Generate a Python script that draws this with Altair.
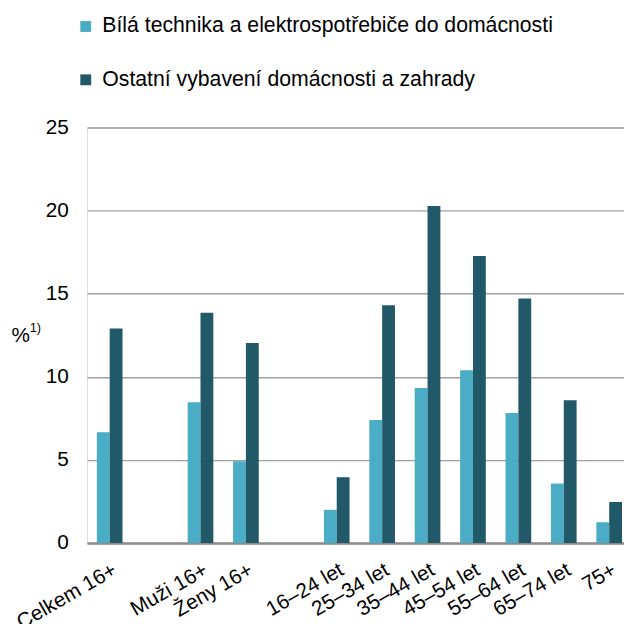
import altair as alt
import pandas as pd

categories = ["Celkem 16+", "gap1", "Muži 16+", "Ženy 16+", "gap2",
              "16–24 let", "25–34 let", "35–44 let", "45–54 let",
              "55–64 let", "65–74 let", "75+"]
data_categories = ["Celkem 16+", "Muži 16+", "Ženy 16+",
                   "16–24 let", "25–34 let", "35–44 let", "45–54 let",
                   "55–64 let", "65–74 let", "75+"]
series = ["Bílá technika a elektrospotřebiče do domácnosti",
          "Ostatní vybavení domácnosti a zahrady"]
light = [6.66, 8.47, 4.92, 2.0, 7.4, 9.32, 10.39, 7.82, 3.58, 1.25]
dark = [12.9, 13.86, 12.03, 3.96, 14.31, 20.28, 17.26, 14.71, 8.59, 2.47]
colors = ["#4BACC6", "#215968"]
y_ticks = [0, 5, 10, 15, 20, 25]

rows = []
for c, a, b in zip(data_categories, light, dark):
    rows.append({"cat": c, "series": series[0], "value": a})
    rows.append({"cat": c, "series": series[1], "value": b})
df = pd.DataFrame(rows)

FONT = "Liberation Sans"
FS = 21

bars = alt.Chart(df).mark_bar().encode(
    x=alt.X("cat:N", sort=categories,
            scale=alt.Scale(domain=categories,
                            paddingInner=0.4348, paddingOuter=0.1304,
                            align=0.8333),
            axis=alt.Axis(title=None, labelAngle=-30, labelAlign="right",
                          labelBaseline="top", labelFontSize=FS, labelFont=FONT,
                          labelColor="#000000", labelPadding=16, ticks=False,
                          domainColor="#8c8c8c", domainWidth=2.5,
                          labelOverlap=False, labelBound=False,
                          labelExpr="indexof(datum.label, 'gap') == 0 ? '' : datum.label")),
    xOffset=alt.XOffset("series:N", sort=series,
                        scale=alt.Scale(domain=series, paddingInner=0, paddingOuter=0)),
    y=alt.Y("value:Q",
            scale=alt.Scale(domain=[0, 25], nice=False),
            axis=alt.Axis(values=y_ticks, title="%", titleAngle=0,
                          titleX=-77, titleY=217, titleAlign="left",
                          titleBaseline="alphabetic", titleFontSize=FS,
                          titleFont=FONT, titleFontWeight="normal",
                          titleColor="#000000",
                          labelFontSize=FS, labelFont=FONT, labelColor="#000000",
                          labelPadding=19, ticks=False, domain=False,
                          gridColor="#a0a0a0", gridWidth=1.5)),
    color=alt.Color("series:N", sort=series,
                    scale=alt.Scale(domain=series, range=colors),
                    legend=alt.Legend(title=None, orient="none",
                                      legendX=-12, legendY=-113,
                                      direction="vertical",
                                      symbolType="square", symbolSize=121,
                                      symbolStrokeWidth=0,
                                      labelFontSize=21.5, labelFont=FONT,
                                      labelColor="#000000", labelOffset=6,
                                      rowPadding=31, labelLimit=600)),
)

footnote = alt.Chart(pd.DataFrame({"t": ["1)"]})).mark_text(
    align="left", baseline="alphabetic", fontSize=13, font=FONT, color="#000000"
).encode(text="t:N", x=alt.value(-58), y=alt.value(207))

chart = alt.layer(bars, footnote).properties(
    width=544, height=421,
    autosize=alt.AutoSizeParams(type="none"),
    padding={"left": 80, "top": 117, "right": 0, "bottom": 78},
).configure_view(stroke=None).configure(background="white")

chart.save("out.html", embed_options={"renderer": "svg", "actions": False})
